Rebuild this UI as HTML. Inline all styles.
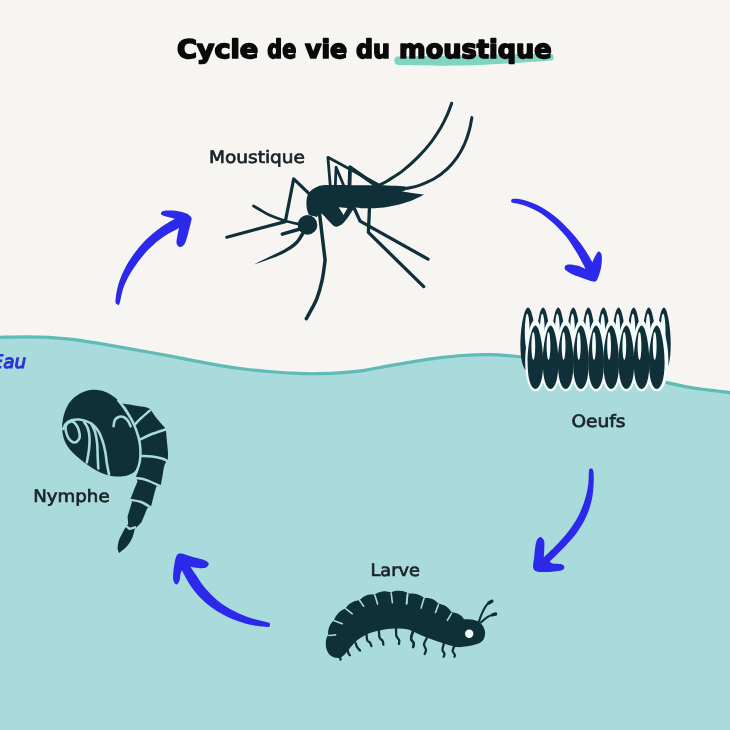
<!DOCTYPE html>
<html lang="fr">
<head>
<meta charset="utf-8">
<title>Cycle de vie du moustique</title>
<style>
html,body{margin:0;padding:0;background:#f7f5f1;}
body{width:730px;height:730px;overflow:hidden;position:relative;}
svg{position:absolute;left:0;top:0;display:block;}
text{text-rendering:geometricPrecision;}
.lbl{font-family:"DejaVu Sans","Liberation Sans",sans-serif;font-size:17px;fill:#1a2328;stroke:#1a2328;stroke-width:.7px;}
.ttl{font-family:"DejaVu Sans","Liberation Sans",sans-serif;font-weight:bold;font-size:25.5px;fill:#0a0a0a;stroke:#0a0a0a;stroke-width:1.7px;stroke-linejoin:round;}
.eau{font-family:"DejaVu Sans","Liberation Sans",sans-serif;font-style:italic;font-size:18.5px;fill:#2e33d6;stroke:#2e33d6;stroke-width:1.1px;}
</style>
</head>
<body>
<svg width="730" height="730" viewBox="0 0 730 730">
<defs><filter id="idf" x="0" y="0" width="730" height="730" filterUnits="userSpaceOnUse"><feOffset dx="0" dy="0"/></filter></defs>
<rect width="730" height="730" fill="#f7f5f1"/>
<!-- WATER -->
<path id="water" d="M-5,337.6 C-4.2,337.6 -5,337.4 0,337.3 C5,337.2 16.8,336.8 25,336.8 C33.2,336.8 40.8,336.8 49,337.3 C57.2,337.8 65.7,338.7 74,339.7 C82.3,340.7 90.8,342.1 99,343.4 C107.2,344.7 114.8,346.2 123,347.6 C131.2,349 139.8,350.5 148,352 C156.2,353.5 164.2,354.9 172,356.4 C179.8,357.9 186.9,359.4 194.7,360.9 C202.5,362.4 210.8,363.9 219,365.3 C227.2,366.7 235.7,368 244,369 C252.3,370 260.4,370.8 268.6,371.5 C276.8,372.2 284.8,372.8 293,373.2 C301.2,373.6 309.7,373.8 318,373.7 C326.3,373.6 334.8,373.3 342.6,372.7 C350.4,372.1 357,371.4 364.7,370.3 C372.4,369.2 380.8,367.2 389,365.8 C397.2,364.4 405.7,362.9 414,361.6 C422.3,360.3 430.4,358.9 438.6,357.9 C446.8,356.9 454.8,356 463,355.5 C471.2,355 479.7,354.6 488,354.7 C496.3,354.8 503.9,355.2 512.6,356 C521.3,356.8 528.8,357.9 540,359.5 C551.2,361.1 566.7,363.2 580,365.5 C593.3,367.8 605.7,370.2 620,373 C634.3,375.8 655.2,380.2 665.9,382.4 C676.6,384.6 678.2,385.3 684,386.4 C689.8,387.5 694.9,388.2 700.4,389 C705.9,389.8 711.1,390.3 716.9,391 C722.7,391.7 732,392.8 735,393.2 L735,735 L-5,735 Z" fill="#a9dadc"/>
<path id="waterline" d="M-5,337.6 C-4.2,337.6 -5,337.4 0,337.3 C5,337.2 16.8,336.8 25,336.8 C33.2,336.8 40.8,336.8 49,337.3 C57.2,337.8 65.7,338.7 74,339.7 C82.3,340.7 90.8,342.1 99,343.4 C107.2,344.7 114.8,346.2 123,347.6 C131.2,349 139.8,350.5 148,352 C156.2,353.5 164.2,354.9 172,356.4 C179.8,357.9 186.9,359.4 194.7,360.9 C202.5,362.4 210.8,363.9 219,365.3 C227.2,366.7 235.7,368 244,369 C252.3,370 260.4,370.8 268.6,371.5 C276.8,372.2 284.8,372.8 293,373.2 C301.2,373.6 309.7,373.8 318,373.7 C326.3,373.6 334.8,373.3 342.6,372.7 C350.4,372.1 357,371.4 364.7,370.3 C372.4,369.2 380.8,367.2 389,365.8 C397.2,364.4 405.7,362.9 414,361.6 C422.3,360.3 430.4,358.9 438.6,357.9 C446.8,356.9 454.8,356 463,355.5 C471.2,355 479.7,354.6 488,354.7 C496.3,354.8 503.9,355.2 512.6,356 C521.3,356.8 528.8,357.9 540,359.5 C551.2,361.1 566.7,363.2 580,365.5 C593.3,367.8 605.7,370.2 620,373 C634.3,375.8 655.2,380.2 665.9,382.4 C676.6,384.6 678.2,385.3 684,386.4 C689.8,387.5 694.9,388.2 700.4,389 C705.9,389.8 711.1,390.3 716.9,391 C722.7,391.7 732,392.8 735,393.2" fill="none" stroke="#5ebbb8" stroke-width="3.2"/>
<!-- TITLE -->
<path id="underline" d="M397,56.5 C440,55.5 500,54.5 551,53.8 C554,54 554.5,59.5 552,60.6 C520,62.5 490,65.2 460,65.6 C435,65.8 415,65.4 398,65 C393.5,64.5 393,57.5 397,56.5 Z" fill="#7fd5c2"/>
<g id="texts" filter="url(#idf)">
<g id="title">
<text class="ttl" x="176.9" y="58.4" textLength="81.4" lengthAdjust="spacingAndGlyphs">Cycle</text>
<text class="ttl" x="267.3" y="58.4" textLength="28.9" lengthAdjust="spacingAndGlyphs">de</text>
<text class="ttl" x="305.0" y="58.4" textLength="42.2" lengthAdjust="spacingAndGlyphs">vie</text>
<text class="ttl" x="356.0" y="58.4" textLength="34.0" lengthAdjust="spacingAndGlyphs">du</text>
<text class="ttl" x="399.1" y="58.4" textLength="152.4" lengthAdjust="spacingAndGlyphs">moustique</text>
</g>
<!-- LABELS -->
<text class="lbl" x="209" y="163" textLength="96" lengthAdjust="spacingAndGlyphs">Moustique</text>
<text class="lbl" x="571.4" y="427.1" textLength="54" lengthAdjust="spacingAndGlyphs">Oeufs</text>
<text class="lbl" x="33.2" y="501.6" textLength="76.4" lengthAdjust="spacingAndGlyphs">Nymphe</text>
<text class="lbl" x="370.5" y="576.3" textLength="49.4" lengthAdjust="spacingAndGlyphs">Larve</text>
<text class="eau" x="-8.5" y="368" textLength="34.6" lengthAdjust="spacingAndGlyphs">Eau</text>
</g>
<!-- ARROWS -->
<path d="M117.3,304.3 C116.7,303.8 115.2,304 115.5,300.2 C115.8,296.4 117.1,287.8 119.3,281.4 C121.5,275 124.8,268.1 128.6,261.8 C132.4,255.5 137.4,249 142.2,243.7 C147,238.4 152.5,233.9 157.3,230.1 C162,226.4 167.8,223 170.8,221.1 C173.8,219.2 175.3,218.8 175.3,218.8 C175.3,218.8 165.4,216.4 163,215.5 C160.6,214.6 160.9,214 161,213.3 C161.2,212.5 161.7,211.3 164,210.8 C166.4,210.4 171.7,210.4 175.3,210.8 C179,211.3 183.3,212.2 185.9,213.3 C188.5,214.3 190.3,216 191.2,217.3 C192,218.6 191.7,218.5 191.2,221.1 C190.7,223.7 189.2,229.4 188.2,233.2 C187.1,236.9 186.1,241.4 184.7,243.7 C183.3,246 181.2,247.1 179.9,247 C178.5,246.9 176.9,245 176.5,242.9 C176.2,240.9 177.2,237.2 177.6,234.7 C178,232.1 179.1,227.9 179.1,227.9 C179.1,227.9 168.4,233.3 163.3,236.9 C158.1,240.6 153.1,244.6 148.2,249.7 C143.3,254.9 137.9,261.8 133.9,267.8 C129.9,273.8 126.5,280 124.1,285.9 C121.7,291.8 120.7,300.2 119.6,303.2 C118.5,306.3 118,304.8 117.3,304.3Z" fill="#2d29ea"/>
<path d="M511.2,200.9 C511.3,200.3 511.2,198.9 513.5,198.8 C515.7,198.7 520.1,198.9 524.7,200.3 C529.3,201.6 535.6,203.8 541.1,206.9 C546.6,209.9 552.3,214 557.5,218.4 C562.7,222.8 567.9,228.2 572.3,233.2 C576.7,238.1 580.5,243.1 583.8,248 C587.2,252.8 592.4,262.3 592.4,262.3 C592.4,262.3 594,258.3 595,256.5 C596.1,254.7 597.5,251.8 598.6,251.6 C599.7,251.3 601.1,252.8 601.6,254.9 C602.1,256.9 601.9,261 601.6,263.9 C601.3,266.8 600.7,269.4 599.9,272.1 C599.2,274.8 598,278.4 597,280 C595.9,281.6 595.1,281.6 593.7,281.7 C592.3,281.7 592.1,281.4 588.8,280.3 C585.5,279.2 577.8,276.8 574,275.1 C570.1,273.4 567.3,271.6 565.8,270.2 C564.2,268.7 564.5,267.3 564.9,266.4 C565.3,265.4 566.2,264.5 568.2,264.4 C570.3,264.3 574.4,264.8 577.3,265.5 C580.1,266.3 585.5,268.8 585.5,268.8 C585.5,268.8 584.7,266.9 583,263.9 C581.4,260.9 578.5,255.4 575.6,250.8 C572.7,246.2 569.6,241 565.8,236.3 C561.9,231.6 557.3,226.6 552.6,222.5 C547.9,218.4 542.7,214.5 537.8,211.6 C532.9,208.7 527.2,206.5 523,205.1 C518.8,203.6 514.8,203.4 512.8,202.8 C510.8,202.1 511.1,201.6 511.2,200.9Z" fill="#2d29ea"/>
<path d="M591,468.5 C591.7,468.6 592.9,468.5 593.3,471.2 C593.8,473.9 593.9,479.7 593.6,484.7 C593.3,489.6 592.8,495.6 591.5,501.1 C590.2,506.6 588.4,512.1 585.8,517.5 C583.2,523 579.7,528.8 575.9,534 C572.1,539.2 567.1,544.2 562.7,548.8 C558.4,553.4 549.6,561.6 549.6,561.6 C549.6,561.6 550.8,563.1 552.9,563.6 C554.9,564 560,563.8 561.9,564.4 C563.8,565 564.5,566.2 564.4,567.2 C564.2,568.2 564.1,569.6 561.1,570.5 C558.1,571.3 550.4,572 546.3,572.1 C542.2,572.2 538.6,572 536.4,571.3 C534.2,570.5 533.6,569.8 533.2,567.7 C532.7,565.6 533.5,562.9 534,558.6 C534.5,554.4 535.1,545.8 536.1,542.2 C537.1,538.6 538.7,537.2 540.1,536.9 C541.4,536.7 543.3,538.7 544,540.5 C544.7,542.4 544.4,545.2 544.3,547.9 C544.3,550.7 543.8,557.3 543.8,557.3 C543.8,557.3 550.5,551.3 554.5,547.1 C558.5,543 563.7,537.5 567.7,532.3 C571.6,527.1 575.5,521.4 578.4,515.9 C581.2,510.4 583.3,504.7 584.9,499.5 C586.6,494.2 587.5,489.4 588.2,484.7 C588.9,479.9 588.6,473.5 589,470.8 C589.5,468.2 590.3,468.5 591,468.5Z" fill="#2d29ea"/>
<path d="M269.8,624.5 C269.9,623.8 271.1,623.6 268.2,622.5 C265.2,621.5 257.8,620.4 252.1,618.4 C246.4,616.5 239.7,614.1 234,611 C228.2,608 222.5,604.3 217.5,600.4 C212.6,596.4 208.1,591.6 204.4,587.2 C200.7,582.8 197.7,577.5 195.3,574.1 C193,570.6 190.4,566.5 190.4,566.5 C190.4,566.5 192.2,567.2 194.5,567.5 C196.8,567.8 202,568.6 204.4,568.1 C206.7,567.6 208.5,565.8 208.7,564.5 C208.8,563.3 207.8,561.8 205.2,560.6 C202.6,559.3 196.8,558.3 192.9,557.1 C188.9,555.9 184.1,553.7 181.4,553.5 C178.6,553.3 177.7,553.6 176.4,556 C175.2,558.4 174.4,563.9 173.8,567.8 C173.3,571.7 172.8,576.5 173.2,579.3 C173.5,582.1 175.1,584.3 176.1,584.6 C177.2,584.8 178.7,582.7 179.4,581 C180.1,579.3 180,576.2 180.4,574.4 C180.8,572.6 181.9,570.3 181.9,570.3 C181.9,570.3 186.5,579.7 189.6,584.2 C192.7,588.8 196.2,593.6 200.3,597.7 C204.4,601.9 208.9,605.7 214.2,609.2 C219.6,612.8 226.3,616.5 232.3,619.1 C238.4,621.7 244.5,623.5 250.4,624.8 C256.3,626.2 264.4,627 267.7,627 C270.9,626.9 269.7,625.3 269.8,624.5Z" fill="#2d29ea"/>
<!-- MOSQUITO -->
<g fill="#0f2f39">
<path d="M325.5,185.1 C325.5,185.1 360,185.3 360,185.3 C360,185.3 379.8,185.2 387,185.4 C394.2,185.6 398.7,185.8 403,186.2 C407.3,186.6 413,187.6 413,187.6 C413,187.6 402,191.6 402,191.6 C402,191.6 408.3,192.5 412,193 C415.7,193.5 424.2,194.6 424.2,194.6 C424.2,194.6 417.8,198 414.1,199.5 C410.4,201 406.3,202.6 401.8,203.8 C397.3,205 391.5,206.2 387,206.9 C382.5,207.6 378.8,208 374.7,208.2 C370.6,208.4 365.6,208.4 362.3,208.3 C359,208.2 355,207.6 355,207.6 C355,207.6 354,208.6 352.9,210.1 C351.8,211.6 350.2,214.4 348.6,216.6 C347,218.8 344.9,221.5 343.1,223.2 C341.3,224.8 339.2,226.1 337.6,226.5 C336,226.9 334.7,226.3 333.2,225.4 C331.7,224.5 330.8,223 328.8,221 C326.8,219 323.2,214.1 321.2,213.4 C319.2,212.7 317,217 317,217 C317,217 309,215 309,215 C309,215 307.3,211.1 306.9,209 C306.5,206.9 306.3,204.6 306.4,202.4 C306.5,200.2 306.7,197.8 307.5,195.8 C308.3,193.8 309.6,191.9 311.3,190.3 C313,188.8 315.5,187.4 317.9,186.5 C320.3,185.6 325.5,185.1 325.5,185.1Z"/>
<circle cx="307.5" cy="224.9" r="9.8"/>
<path d="M338.7,207.3 L347.5,207.9 L343.6,215Z" fill="#f7f5f1"/>
<path d="M451.7,103.2 C451,105.1 449.1,110.6 447.3,114.7 C445.5,118.8 443.4,123.2 440.7,127.8 C437.9,132.4 434.6,137.7 430.8,142.6 C427,147.5 422.4,152.7 417.7,157.4 C413,162.1 407.8,166.8 402.9,170.6 C398,174.4 391.9,178 388.1,180.4 C384.3,182.8 381.3,184.2 379.9,185" fill="none" stroke="#0f2f39" stroke-width="3.0" stroke-linecap="round" stroke-linejoin="round"/>
<path d="M471.9,117.6 C471.5,119.6 470.7,125.1 469.5,129.5 C468.3,133.9 466.6,139.5 464.5,144.2 C462.4,148.8 460,153.3 457.1,157.4 C454.2,161.5 451.1,165.3 447.3,168.9 C443.5,172.5 438.8,176.1 434.1,178.8 C429.4,181.5 423.7,183.7 419.3,185.3 C414.9,186.9 409.7,187.8 407.8,188.3" fill="none" stroke="#0f2f39" stroke-width="3.0" stroke-linecap="round" stroke-linejoin="round"/>
<path d="M330.3,186 L327.9,157.3 L379,185" fill="none" stroke="#0f2f39" stroke-width="2.8" stroke-linecap="round" stroke-linejoin="round"/>
<path d="M335.3,186 L336.1,167.2 L343.9,186" fill="none" stroke="#0f2f39" stroke-width="2.8" stroke-linecap="round" stroke-linejoin="round"/>
<path d="M349.5,186 L350.1,167.2 L376,185.5" fill="none" stroke="#0f2f39" stroke-width="3.8" stroke-linecap="round" stroke-linejoin="round"/>
<path d="M309,193.6 L293.7,178.9 L285.3,221.6 L226.8,237.2" fill="none" stroke="#0f2f39" stroke-width="3.2" stroke-linecap="round" stroke-linejoin="round"/>
<path d="M300,224.4 C297.4,223.8 289.2,222.1 284.1,220.5 C279,218.9 273.4,216.8 269.3,215 C265.2,213.2 262.1,211 259.5,209.5 C256.9,208 254.5,206.6 253.5,206" fill="none" stroke="#0f2f39" stroke-width="2.8" stroke-linecap="round" stroke-linejoin="round"/>
<path d="M300,229 L282.3,234.1" fill="none" stroke="#0f2f39" stroke-width="3.5" stroke-linecap="round" stroke-linejoin="round"/>
<path d="M301.7,231.5 C301.7,231.5 298.2,238.4 295.2,241.5 C292.1,244.5 287.7,247.4 283.3,250.1 C278.9,252.7 273.7,254.7 268.9,257.1 C264,259.5 254.3,264.4 254.3,264.4 C254.3,264.4 264.6,261.1 269.7,259.1 C274.8,257.2 280.2,255.3 284.9,252.7 C289.5,250.2 294.3,247.2 297.6,243.9 C300.9,240.7 304.7,233.5 304.7,233.5 C304.7,233.5 301.7,231.5 301.7,231.5Z"/>
<path d="M319.6,214 C320,217.5 321.2,227.4 322.1,235.1 C323,242.8 325.1,259.9 325.1,259.9 C325.1,259.9 323.5,273.9 322.1,280.3 C320.7,286.7 318.9,293.1 316.9,298.4 C314.9,303.7 311.9,308.5 310.1,311.9 C308.3,315.3 306.9,317.6 306.3,318.7" fill="none" stroke="#0f2f39" stroke-width="3.5" stroke-linecap="round" stroke-linejoin="round"/>
<path d="M354.1,208 L360.1,221.1 L428,259.1" fill="none" stroke="#0f2f39" stroke-width="3.3" stroke-linecap="round" stroke-linejoin="round"/>
<path d="M369.5,207 L368.4,232.4 L423.7,286.6" fill="none" stroke="#0f2f39" stroke-width="3.3" stroke-linecap="round" stroke-linejoin="round"/>
</g>
<!-- EGGS -->
<g>
<path d="M528.0,307.5 c3.80,0 7.60,19.72 7.60,36.89 c0,16.54 -3.19,26.71 -7.60,26.71 c-4.41,0 -7.60,-10.18 -7.60,-26.71 c0,-17.17 3.80,-36.89 7.60,-36.89z" fill="#0f2f39"/>
<ellipse cx="527.2" cy="331.8" rx="2.4" ry="18" fill="#f4fbfb"/>
<path d="M543.1,307.5 c3.40,0 6.80,19.72 6.80,36.89 c0,16.54 -2.86,26.71 -6.80,26.71 c-3.94,0 -6.80,-10.18 -6.80,-26.71 c0,-17.17 3.40,-36.89 6.80,-36.89z" fill="#0f2f39"/>
<ellipse cx="542.3" cy="331.8" rx="2.4" ry="18" fill="#f4fbfb"/>
<path d="M558.2,307.5 c3.40,0 6.80,19.72 6.80,36.89 c0,16.54 -2.86,26.71 -6.80,26.71 c-3.94,0 -6.80,-10.18 -6.80,-26.71 c0,-17.17 3.40,-36.89 6.80,-36.89z" fill="#0f2f39"/>
<ellipse cx="557.4" cy="331.8" rx="2.4" ry="18" fill="#f4fbfb"/>
<path d="M573.3,307.5 c3.40,0 6.80,19.72 6.80,36.89 c0,16.54 -2.86,26.71 -6.80,26.71 c-3.94,0 -6.80,-10.18 -6.80,-26.71 c0,-17.17 3.40,-36.89 6.80,-36.89z" fill="#0f2f39"/>
<ellipse cx="572.5" cy="331.8" rx="2.4" ry="18" fill="#f4fbfb"/>
<path d="M588.4,307.5 c3.40,0 6.80,19.72 6.80,36.89 c0,16.54 -2.86,26.71 -6.80,26.71 c-3.94,0 -6.80,-10.18 -6.80,-26.71 c0,-17.17 3.40,-36.89 6.80,-36.89z" fill="#0f2f39"/>
<ellipse cx="587.6" cy="331.8" rx="2.4" ry="18" fill="#f4fbfb"/>
<path d="M603.5,307.5 c3.40,0 6.80,19.72 6.80,36.89 c0,16.54 -2.86,26.71 -6.80,26.71 c-3.94,0 -6.80,-10.18 -6.80,-26.71 c0,-17.17 3.40,-36.89 6.80,-36.89z" fill="#0f2f39"/>
<ellipse cx="602.7" cy="331.8" rx="2.4" ry="18" fill="#f4fbfb"/>
<path d="M618.6,307.5 c3.40,0 6.80,19.72 6.80,36.89 c0,16.54 -2.86,26.71 -6.80,26.71 c-3.94,0 -6.80,-10.18 -6.80,-26.71 c0,-17.17 3.40,-36.89 6.80,-36.89z" fill="#0f2f39"/>
<ellipse cx="617.8" cy="331.8" rx="2.4" ry="18" fill="#f4fbfb"/>
<path d="M633.7,307.5 c3.40,0 6.80,19.72 6.80,36.89 c0,16.54 -2.86,26.71 -6.80,26.71 c-3.94,0 -6.80,-10.18 -6.80,-26.71 c0,-17.17 3.40,-36.89 6.80,-36.89z" fill="#0f2f39"/>
<ellipse cx="632.9" cy="331.8" rx="2.4" ry="18" fill="#f4fbfb"/>
<path d="M648.8,307.5 c3.40,0 6.80,19.72 6.80,36.89 c0,16.54 -2.86,26.71 -6.80,26.71 c-3.94,0 -6.80,-10.18 -6.80,-26.71 c0,-17.17 3.40,-36.89 6.80,-36.89z" fill="#0f2f39"/>
<ellipse cx="648.0" cy="331.8" rx="2.4" ry="18" fill="#f4fbfb"/>
<path d="M663.9,307.5 c3.40,0 6.80,19.72 6.80,36.89 c0,16.54 -2.86,26.71 -6.80,26.71 c-3.94,0 -6.80,-10.18 -6.80,-26.71 c0,-17.17 3.40,-36.89 6.80,-36.89z" fill="#0f2f39"/>
<ellipse cx="663.1" cy="331.8" rx="2.4" ry="18" fill="#f4fbfb"/>
<path d="M535.4,319.4 c5.10,0 10.20,22.32 10.20,41.76 c0,18.72 -4.28,30.24 -10.20,30.24 c-5.92,0 -10.20,-11.52 -10.20,-30.24 c0,-19.44 5.10,-41.76 10.20,-41.76z" fill="#f4fbfb"/>
<path d="M550.6,319.4 c5.10,0 10.20,22.32 10.20,41.76 c0,18.72 -4.28,30.24 -10.20,30.24 c-5.92,0 -10.20,-11.52 -10.20,-30.24 c0,-19.44 5.10,-41.76 10.20,-41.76z" fill="#f4fbfb"/>
<path d="M565.7,319.4 c5.10,0 10.20,22.32 10.20,41.76 c0,18.72 -4.28,30.24 -10.20,30.24 c-5.92,0 -10.20,-11.52 -10.20,-30.24 c0,-19.44 5.10,-41.76 10.20,-41.76z" fill="#f4fbfb"/>
<path d="M580.9,319.4 c5.10,0 10.20,22.32 10.20,41.76 c0,18.72 -4.28,30.24 -10.20,30.24 c-5.92,0 -10.20,-11.52 -10.20,-30.24 c0,-19.44 5.10,-41.76 10.20,-41.76z" fill="#f4fbfb"/>
<path d="M596.1,319.4 c5.10,0 10.20,22.32 10.20,41.76 c0,18.72 -4.28,30.24 -10.20,30.24 c-5.92,0 -10.20,-11.52 -10.20,-30.24 c0,-19.44 5.10,-41.76 10.20,-41.76z" fill="#f4fbfb"/>
<path d="M611.2,319.4 c5.10,0 10.20,22.32 10.20,41.76 c0,18.72 -4.28,30.24 -10.20,30.24 c-5.92,0 -10.20,-11.52 -10.20,-30.24 c0,-19.44 5.10,-41.76 10.20,-41.76z" fill="#f4fbfb"/>
<path d="M626.4,319.4 c5.10,0 10.20,22.32 10.20,41.76 c0,18.72 -4.28,30.24 -10.20,30.24 c-5.92,0 -10.20,-11.52 -10.20,-30.24 c0,-19.44 5.10,-41.76 10.20,-41.76z" fill="#f4fbfb"/>
<path d="M641.6,319.4 c5.10,0 10.20,22.32 10.20,41.76 c0,18.72 -4.28,30.24 -10.20,30.24 c-5.92,0 -10.20,-11.52 -10.20,-30.24 c0,-19.44 5.10,-41.76 10.20,-41.76z" fill="#f4fbfb"/>
<path d="M656.8,319.4 c5.80,0 11.60,22.32 11.60,41.76 c0,18.72 -4.87,30.24 -11.60,30.24 c-6.73,0 -11.60,-11.52 -11.60,-30.24 c0,-19.44 5.80,-41.76 11.60,-41.76z" fill="#f4fbfb"/>
<path d="M535.4,325.4 c3.90,0 7.80,19.72 7.80,36.89 c0,16.54 -3.28,26.71 -7.80,26.71 c-4.52,0 -7.80,-10.18 -7.80,-26.71 c0,-17.17 3.90,-36.89 7.80,-36.89z" fill="#0f2f39"/>
<ellipse cx="533.3" cy="346" rx="1.9" ry="13.9" fill="#f4fbfb"/>
<path d="M550.6,325.4 c3.90,0 7.80,19.72 7.80,36.89 c0,16.54 -3.28,26.71 -7.80,26.71 c-4.52,0 -7.80,-10.18 -7.80,-26.71 c0,-17.17 3.90,-36.89 7.80,-36.89z" fill="#0f2f39"/>
<ellipse cx="548.5" cy="346" rx="1.9" ry="13.9" fill="#f4fbfb"/>
<path d="M565.7,325.4 c3.90,0 7.80,19.72 7.80,36.89 c0,16.54 -3.28,26.71 -7.80,26.71 c-4.52,0 -7.80,-10.18 -7.80,-26.71 c0,-17.17 3.90,-36.89 7.80,-36.89z" fill="#0f2f39"/>
<ellipse cx="563.6" cy="346" rx="1.9" ry="13.9" fill="#f4fbfb"/>
<path d="M580.9,325.4 c3.90,0 7.80,19.72 7.80,36.89 c0,16.54 -3.28,26.71 -7.80,26.71 c-4.52,0 -7.80,-10.18 -7.80,-26.71 c0,-17.17 3.90,-36.89 7.80,-36.89z" fill="#0f2f39"/>
<ellipse cx="578.8" cy="346" rx="1.9" ry="13.9" fill="#f4fbfb"/>
<path d="M596.1,325.4 c3.90,0 7.80,19.72 7.80,36.89 c0,16.54 -3.28,26.71 -7.80,26.71 c-4.52,0 -7.80,-10.18 -7.80,-26.71 c0,-17.17 3.90,-36.89 7.80,-36.89z" fill="#0f2f39"/>
<ellipse cx="594.0" cy="346" rx="1.9" ry="13.9" fill="#f4fbfb"/>
<path d="M611.2,325.4 c3.90,0 7.80,19.72 7.80,36.89 c0,16.54 -3.28,26.71 -7.80,26.71 c-4.52,0 -7.80,-10.18 -7.80,-26.71 c0,-17.17 3.90,-36.89 7.80,-36.89z" fill="#0f2f39"/>
<ellipse cx="609.1" cy="346" rx="1.9" ry="13.9" fill="#f4fbfb"/>
<path d="M626.4,325.4 c3.90,0 7.80,19.72 7.80,36.89 c0,16.54 -3.28,26.71 -7.80,26.71 c-4.52,0 -7.80,-10.18 -7.80,-26.71 c0,-17.17 3.90,-36.89 7.80,-36.89z" fill="#0f2f39"/>
<ellipse cx="624.3" cy="346" rx="1.9" ry="13.9" fill="#f4fbfb"/>
<path d="M641.6,325.4 c3.90,0 7.80,19.72 7.80,36.89 c0,16.54 -3.28,26.71 -7.80,26.71 c-4.52,0 -7.80,-10.18 -7.80,-26.71 c0,-17.17 3.90,-36.89 7.80,-36.89z" fill="#0f2f39"/>
<ellipse cx="639.5" cy="346" rx="1.9" ry="13.9" fill="#f4fbfb"/>
<path d="M656.8,325.4 c3.90,0 7.80,19.72 7.80,36.89 c0,16.54 -3.28,26.71 -7.80,26.71 c-4.52,0 -7.80,-10.18 -7.80,-26.71 c0,-17.17 3.90,-36.89 7.80,-36.89z" fill="#0f2f39"/>
<ellipse cx="654.7" cy="346" rx="1.9" ry="13.9" fill="#f4fbfb"/>
</g>
<!-- NYMPH -->
<g>
<path d="M122.3,403.6 C122.3,403.6 130.8,404.9 134.7,405.5 C138.6,406.1 143.2,406.7 145.8,407.3 C148.4,407.9 150.3,409.2 150.3,409.2 C150.3,409.2 154.9,415.8 156.8,418.4 C158.8,420.9 160.5,422.8 162,424.5 C163.5,426.2 165.8,428.6 165.8,428.6 C165.8,428.6 166.6,437.8 167,441.9 C167.4,446 167.9,450 168,453 C168.1,456 167.8,460 167.8,460 C167.8,460 165.3,462.8 164.4,465.5 C163.5,468.2 163.1,472.6 162.5,476 C161.9,479.4 160.6,486 160.6,486 C160.6,486 156.4,486.2 156.4,486.2 C156.4,486.2 154.5,493 153.6,496.5 C152.7,500 151,507 151,507 C151,507 147.5,507.7 147.5,507.7 C147.5,507.7 145.5,512.5 144.5,515 C143.5,517.5 141.3,522.5 141.3,522.5 C141.3,522.5 134.6,529.4 134.6,529.4 C134.6,529.4 133.6,534.9 132.4,537.6 C131.2,540.3 129.6,543.2 127.4,545.8 C125.2,548.4 119.2,553 119.2,553 C119.2,553 117.6,550.7 117.6,548.6 C117.6,546.5 118.1,543 119,540.3 C119.9,537.5 121.9,534.3 123,532.1 C124.1,529.9 125.6,527.3 125.6,527.3 C125.6,527.3 128.2,524 128.2,524 C128.2,524 127.6,516.4 127.6,516.4 C127.6,516.4 132,502 132,502 C132,502 130.4,499.2 130.4,499.2 C130.4,499.2 132.4,494 133.6,491 C134.8,488 137.5,481.4 137.5,481.4 C137.5,481.4 135.8,477.3 135.8,477.3 C135.8,477.3 138.9,469.6 139.7,465 C140.5,460.4 141.1,456.2 140.5,450 C139.9,443.8 138.1,434.5 136,428 C133.9,421.5 130.3,415.1 128,411 C125.7,406.9 122.3,403.6 122.3,403.6Z" fill="#0f2f39"/>
<path d="M92.8,389.7 C90.1,389.8 87.6,390.2 84.6,391.4 C81.6,392.6 77.6,394.6 74.7,397.1 C71.8,399.6 69.2,402.7 67.3,406.2 C65.4,409.7 64,414 63.2,417.9 C62.4,421.8 62,425.6 62.2,429.4 C62.5,433.2 63.2,437.3 64.7,440.9 C66.2,444.5 68.5,447.8 71.2,451 C73.9,454.2 77.5,457.1 81.1,460 C84.7,462.9 88.7,465.9 92.6,468.2 C96.5,470.5 100.4,472.6 104.3,474 C108.2,475.4 112,476.2 115.8,476.4 C119.6,476.6 124,476.4 127.3,475.4 C130.6,474.4 133.5,473 135.6,470.5 C137.7,468 139.1,464.4 139.9,460.6 C140.8,456.8 141,451.9 140.7,447.5 C140.4,443.1 139.3,438.4 138.2,434.3 C137.1,430.2 135.9,426.7 134.1,422.8 C132.3,418.9 130,414.7 127.5,411.1 C125,407.5 122.2,404.1 119.2,401.2 C116.2,398.3 112.2,395.6 109.2,393.8 C106.2,392 103.7,391.3 101,390.6 C98.3,389.9 95.5,389.6 92.8,389.7Z" fill="#0f2f39"/>
<path d="M118.2,400.2 C119.5,402 123.5,407 126,410.8 C128.5,414.6 131.3,418.9 133.4,423.2 C135.5,427.5 137.2,432.6 138.4,436.9 C139.6,441.2 140.2,445.1 140.4,449.2 C140.6,453.3 140.4,457.9 139.8,461.6 C139.2,465.3 137.7,468.8 136.6,471.4 C135.5,474 133.8,476.1 133.2,477" fill="none" stroke="#a9dadc" stroke-width="2.5" stroke-linecap="round" stroke-linejoin="round"/>
<path d="M135.3,424 C136.2,423.1 138.4,420.6 140.8,418.4 C143.2,416.2 148.3,411.9 149.8,410.6" fill="none" stroke="#a9dadc" stroke-width="2.5" stroke-linecap="round" stroke-linejoin="round"/>
<path d="M140.2,439.4 C141.9,438.6 146.4,436.2 150.7,434.5 C155,432.8 163.4,430.2 166,429.3" fill="none" stroke="#a9dadc" stroke-width="2.5" stroke-linecap="round" stroke-linejoin="round"/>
<path d="M141.4,456 C143.2,456.1 148.5,456 151.9,456.4 C155.3,456.8 159.1,457.7 161.8,458.5 C164.5,459.3 167,460.8 168,461.2" fill="none" stroke="#a9dadc" stroke-width="2.5" stroke-linecap="round" stroke-linejoin="round"/>
<path d="M136,478 C137.8,478.4 142.5,478.7 146.6,480.1 C150.7,481.5 158.4,485.3 160.8,486.4" fill="none" stroke="#a9dadc" stroke-width="2.5" stroke-linecap="round" stroke-linejoin="round"/>
<path d="M130.4,499.9 C132.2,500.2 137.6,500.7 141.1,502 C144.6,503.3 149.5,506.8 151.2,507.7" fill="none" stroke="#a9dadc" stroke-width="2.5" stroke-linecap="round" stroke-linejoin="round"/>
<path d="M125.6,525.6 L129.5,528.9 L135.2,527.3" fill="none" stroke="#a9dadc" stroke-width="2.4" stroke-linecap="round" stroke-linejoin="round"/>
<path d="M63.2,429 C63.7,428.1 64.6,425.1 66,423.6 C67.4,422.2 69.2,421 71.4,420.3 C73.6,419.6 76.5,419.3 79.1,419.5 C81.7,419.7 84.4,420.4 86.8,421.4 C89.2,422.3 91.4,423.5 93.4,425.2 C95.4,426.9 97.2,429.1 98.8,431.8 C100.4,434.5 101.7,438.1 102.8,441.6 C103.9,445.1 104.7,448.9 105.4,452.6 C106.1,456.3 106.3,460 106.9,463.6 C107.5,467.2 108.7,472.7 109,474.5" fill="none" stroke="#a9dadc" stroke-width="2.6" stroke-linecap="round" stroke-linejoin="round"/>
<path d="M66,425.2 C65.1,426.9 65.5,429.6 66,431.8 C66.5,434 67.5,436.7 68.7,438.4 C69.9,440.1 71.7,441.7 73.1,442.2 C74.5,442.7 75.8,442.4 76.9,441.6 C78,440.8 79.4,439.3 79.7,437.3 C80,435.3 79.3,431.9 78.6,429.6 C77.9,427.3 76.5,425 75.3,423.6 C74.1,422.2 73,421.1 71.4,421.4 C69.9,421.7 66.9,423.5 66,425.2Z" fill="none" stroke="#a9dadc" stroke-width="2.6" stroke-linecap="round" stroke-linejoin="round"/>
<path d="M84,421.9 C84.7,423 87,425.9 87.9,428.5 C88.8,431.1 89.3,433.8 89.5,437.3 C89.7,440.8 89.5,445.1 89,449.3 C88.5,453.5 87.2,460.3 86.8,462.5" fill="none" stroke="#a9dadc" stroke-width="2.6" stroke-linecap="round" stroke-linejoin="round"/>
<path d="M91.2,423.6 C91.8,425 94,428.4 95,431.8 C96,435.2 96.8,439.6 97.2,443.8 C97.7,448 97.5,452.9 97.7,457 C97.9,461.1 98.2,466.6 98.3,468.5" fill="none" stroke="#a9dadc" stroke-width="2.6" stroke-linecap="round" stroke-linejoin="round"/>
<path d="M113.6,426.3 C113.8,425.3 113.9,421.9 114.7,420.3 C115.5,418.8 117.1,417.6 118.6,417 C120.1,416.4 122,416.4 123.5,417 C125,417.6 126.7,419.2 127.9,420.8 C129.1,422.4 130.2,425.4 130.6,426.3" fill="none" stroke="#a9dadc" stroke-width="2.6" stroke-linecap="round" stroke-linejoin="round"/>
</g>
<!-- LARVA -->
<g>
<path d="M325.8,643.7 C325.7,642 325.9,640.4 326.3,638.9 C326.7,637.4 328.2,634.8 328.2,634.8 C328.2,634.8 328,632 328.2,630.8 C328.4,629.5 328.7,628.3 329.2,627.1 C329.6,626 330.2,624.8 330.9,623.8 C331.7,622.7 333.7,620.8 333.7,620.8 C333.7,620.8 334.8,617.9 335.6,616.7 C336.3,615.5 337.2,614.4 338.2,613.3 C339.2,612.3 340.2,611.3 341.4,610.5 C342.7,609.7 345.5,608.5 345.5,608.5 C345.5,608.5 347.2,606.1 348.2,605.1 C349.2,604.2 350.3,603.4 351.4,602.8 C352.6,602.1 353.8,601.5 355.1,601 C356.4,600.6 359.3,600.3 359.3,600.3 C359.3,600.3 361.4,598.2 362.6,597.4 C363.7,596.7 365,596.1 366.2,595.6 C367.5,595.1 368.8,594.7 370.2,594.6 C371.6,594.4 374.5,594.5 374.5,594.5 C374.5,594.5 377.1,593 378.4,592.5 C379.8,592 381.1,591.7 382.5,591.5 C383.9,591.4 385.2,591.3 386.7,591.4 C388.1,591.5 391,592.3 391,592.3 C391,592.3 393.8,591.3 395.2,591 C396.6,590.7 398,590.7 399.4,590.8 C400.8,590.8 402.2,591 403.6,591.3 C404.9,591.7 407.7,593 407.7,593 C407.7,593 408.9,593 409.2,593 C409.5,593 409.6,593 409.6,593.1 C409.6,593.2 409.6,593.3 409.3,593.4 C409,593.5 407.8,593.8 407.8,593.8 C407.8,593.8 410.8,593.4 412.3,593.4 C413.7,593.4 415.1,593.7 416.5,594 C417.9,594.4 419.2,594.8 420.5,595.5 C421.8,596.1 424.2,597.9 424.2,597.9 C424.2,597.9 427.1,597.8 428.4,598 C429.7,598.2 431,598.6 432.2,599.1 C433.4,599.6 434.5,600.2 435.6,601 C436.7,601.8 438.6,603.8 438.6,603.8 C438.6,603.8 441.5,604.3 442.7,604.8 C444,605.2 445.2,605.9 446.3,606.6 C447.4,607.4 448.4,608.2 449.3,609.2 C450.2,610.2 451.8,612.6 451.8,612.6 C451.8,612.6 454.4,612.7 455.6,613 C456.8,613.2 457.8,613.7 458.9,614.3 C459.9,614.8 460.9,615.5 461.7,616.3 C462.6,617.2 464.1,619.3 464.1,619.3 C464.1,619.3 468.9,619.2 471.2,619.6 C473.6,620 476.1,620.6 478.1,621.6 C480,622.7 481.7,624.2 482.9,625.9 C484,627.6 484.9,629.9 485.1,632.1 C485.2,634.2 484.8,637.1 483.8,638.9 C482.9,640.7 481.3,642 479.5,643 C477.6,644.1 475.1,644.6 472.6,645.2 C470.1,645.8 466.9,646.3 464.4,646.6 C461.9,646.9 460,647.4 457.5,647.1 C455,646.9 452.1,646 449.3,645.2 C446.6,644.4 443.8,643.4 441.1,642.5 C438.4,641.6 435.6,640.7 432.9,639.7 C430.1,638.8 427.4,638 424.7,636.8 C421.9,635.7 419.2,634.2 416.4,633 C413.7,631.8 409.7,630.2 408.2,629.6 C406.8,629 410,629.5 407.7,629.3 C405.3,629.2 398.3,628.5 394,628.6 C389.6,628.7 385.5,629.3 381.6,630 C377.8,630.7 374.1,631.5 370.7,632.7 C367.3,634 363.8,635.8 361.1,637.5 C358.4,639.2 356.5,640.7 354.2,643 C352,645.3 349.5,648.9 347.4,651.2 C345.3,653.5 343.9,655.6 341.9,656.7 C340,657.8 337.8,658.2 335.8,657.8 C333.7,657.5 331.1,656.1 329.6,654.7 C328.1,653.2 327.2,651 326.6,649.2 C325.9,647.4 325.8,645.4 325.8,643.7Z" fill="#0f2f39"/>
<path d="M328.9,635.5 C330,635.4 334.5,635 335.6,634.9" fill="none" stroke="#a9dadc" stroke-width="1.6" stroke-linecap="round" stroke-linejoin="round"/>
<path d="M334.4,620.7 C335.7,621.2 340.9,623.3 342.2,623.8" fill="none" stroke="#a9dadc" stroke-width="1.6" stroke-linecap="round" stroke-linejoin="round"/>
<path d="M346,608.8 C347.1,609.6 351.2,613 352.2,613.8" fill="none" stroke="#a9dadc" stroke-width="1.6" stroke-linecap="round" stroke-linejoin="round"/>
<path d="M359.7,600.5 C360.4,601.5 363,605.2 363.7,606.2" fill="none" stroke="#a9dadc" stroke-width="1.6" stroke-linecap="round" stroke-linejoin="round"/>
<path d="M374.8,595.1 C375.3,596.6 377.1,602.6 377.6,604.1" fill="none" stroke="#a9dadc" stroke-width="1.6" stroke-linecap="round" stroke-linejoin="round"/>
<path d="M391.2,593 C391.4,594.6 392.2,601 392.4,602.6" fill="none" stroke="#a9dadc" stroke-width="1.6" stroke-linecap="round" stroke-linejoin="round"/>
<path d="M407.7,593.7 C407.5,595.4 406.9,602.1 406.8,603.8" fill="none" stroke="#a9dadc" stroke-width="1.6" stroke-linecap="round" stroke-linejoin="round"/>
<path d="M407.5,594.4 C407.3,596 406.6,602.3 406.4,603.9" fill="none" stroke="#a9dadc" stroke-width="1.6" stroke-linecap="round" stroke-linejoin="round"/>
<path d="M424,598.5 C423.5,600.1 421.6,606.4 421.2,608" fill="none" stroke="#a9dadc" stroke-width="1.6" stroke-linecap="round" stroke-linejoin="round"/>
<path d="M438.4,604.7 C437.9,606 436,611.2 435.5,612.5" fill="none" stroke="#a9dadc" stroke-width="1.6" stroke-linecap="round" stroke-linejoin="round"/>
<path d="M451.4,613.6 C450.7,614.7 448.1,619.2 447.4,620.3" fill="none" stroke="#a9dadc" stroke-width="1.6" stroke-linecap="round" stroke-linejoin="round"/>
<path d="M339.9,656 C340,656.6 340.4,658.9 340.5,659.5" fill="none" stroke="#0f2f39" stroke-width="2.3" stroke-linecap="round" stroke-linejoin="round"/>
<path d="M347.8,650.5 C347.9,651 348.2,652.5 348.5,653.3 C348.8,654.1 349.6,655 349.9,655.3" fill="none" stroke="#0f2f39" stroke-width="2.3" stroke-linecap="round" stroke-linejoin="round"/>
<path d="M355.6,643 C355.8,643.7 356.3,645.6 357,646.8 C357.7,648.1 359.5,649.9 360,650.5" fill="none" stroke="#0f2f39" stroke-width="2.3" stroke-linecap="round" stroke-linejoin="round"/>
<path d="M366.6,634.8 C366.7,635.7 366.7,638.9 367.3,640.3 C367.8,641.6 369.3,641.8 370,642.7 C370.7,643.7 371.1,645.5 371.4,646" fill="none" stroke="#0f2f39" stroke-width="2.3" stroke-linecap="round" stroke-linejoin="round"/>
<path d="M378.9,630 C379,631.3 378.9,635.7 379.6,637.5 C380.2,639.4 382.1,639.8 382.7,641 C383.4,642.1 383.2,644 383.3,644.7" fill="none" stroke="#0f2f39" stroke-width="2.3" stroke-linecap="round" stroke-linejoin="round"/>
<path d="M396,628.6 C396.1,629.9 395.9,634.2 396.4,636.2 C397,638.1 398.8,638.9 399.2,640.3 C399.6,641.6 398.9,643.5 398.9,644.1" fill="none" stroke="#0f2f39" stroke-width="2.3" stroke-linecap="round" stroke-linejoin="round"/>
<path d="M413.2,631.4 C412.8,632.6 411,636.9 411.1,638.9 C411.2,640.9 413.5,641.9 413.8,643.3 C414.2,644.7 413.3,646.5 413.2,647.1" fill="none" stroke="#0f2f39" stroke-width="2.3" stroke-linecap="round" stroke-linejoin="round"/>
<path d="M412.6,632.1 C412.3,633.2 410.8,637.1 411,638.9 C411.1,640.7 413.4,641.6 413.7,643 C414,644.4 413.1,646.4 413,647.1" fill="none" stroke="#0f2f39" stroke-width="2.3" stroke-linecap="round" stroke-linejoin="round"/>
<path d="M426.7,638.2 C426.3,639.2 424.1,642.4 424,644.4 C423.9,646.3 425.9,648.3 426,649.9 C426.1,651.5 424.9,653.3 424.7,654" fill="none" stroke="#0f2f39" stroke-width="2.3" stroke-linecap="round" stroke-linejoin="round"/>
<path d="M443.8,643.7 C443.6,644.7 442.4,648.2 442.5,649.9 C442.6,651.6 444.3,652.8 444.5,654 C444.7,655.1 443.7,656.3 443.6,656.7" fill="none" stroke="#0f2f39" stroke-width="2.3" stroke-linecap="round" stroke-linejoin="round"/>
<path d="M454.1,646.4 C453.9,647.2 452.6,649.9 452.7,651.2 C452.9,652.6 454.5,653.7 454.8,654.7 C455.1,655.6 454.6,656.4 454.5,656.7" fill="none" stroke="#0f2f39" stroke-width="2.3" stroke-linecap="round" stroke-linejoin="round"/>
<path d="M478.8,621.8 C479.3,620.3 480.9,615.6 482.2,612.9 C483.4,610.1 485,607.1 486.3,605.3 C487.6,603.6 489.2,602.7 489.7,602.2" fill="none" stroke="#0f2f39" stroke-width="2.1" stroke-linecap="round" stroke-linejoin="round"/>
<path d="M480.8,622.5 C481.7,621.7 484.6,619 486.3,617.8 C488,616.6 489.7,615.9 491.1,615.3 C492.5,614.7 493.9,614.4 494.5,614.2" fill="none" stroke="#0f2f39" stroke-width="2.1" stroke-linecap="round" stroke-linejoin="round"/>
<path d="M488.8,603 C489.3,602.7 491.3,601.5 491.8,601.2" fill="none" stroke="#0f2f39" stroke-width="3.4" stroke-linecap="round" stroke-linejoin="round"/>
<path d="M492.6,614.8 C493.1,614.7 495.1,614.1 495.6,614" fill="none" stroke="#0f2f39" stroke-width="3.4" stroke-linecap="round" stroke-linejoin="round"/>
<circle cx="469.2" cy="633.8" r="4.2" fill="#f4fbfb"/>
</g>
</svg>
</body>
</html>
